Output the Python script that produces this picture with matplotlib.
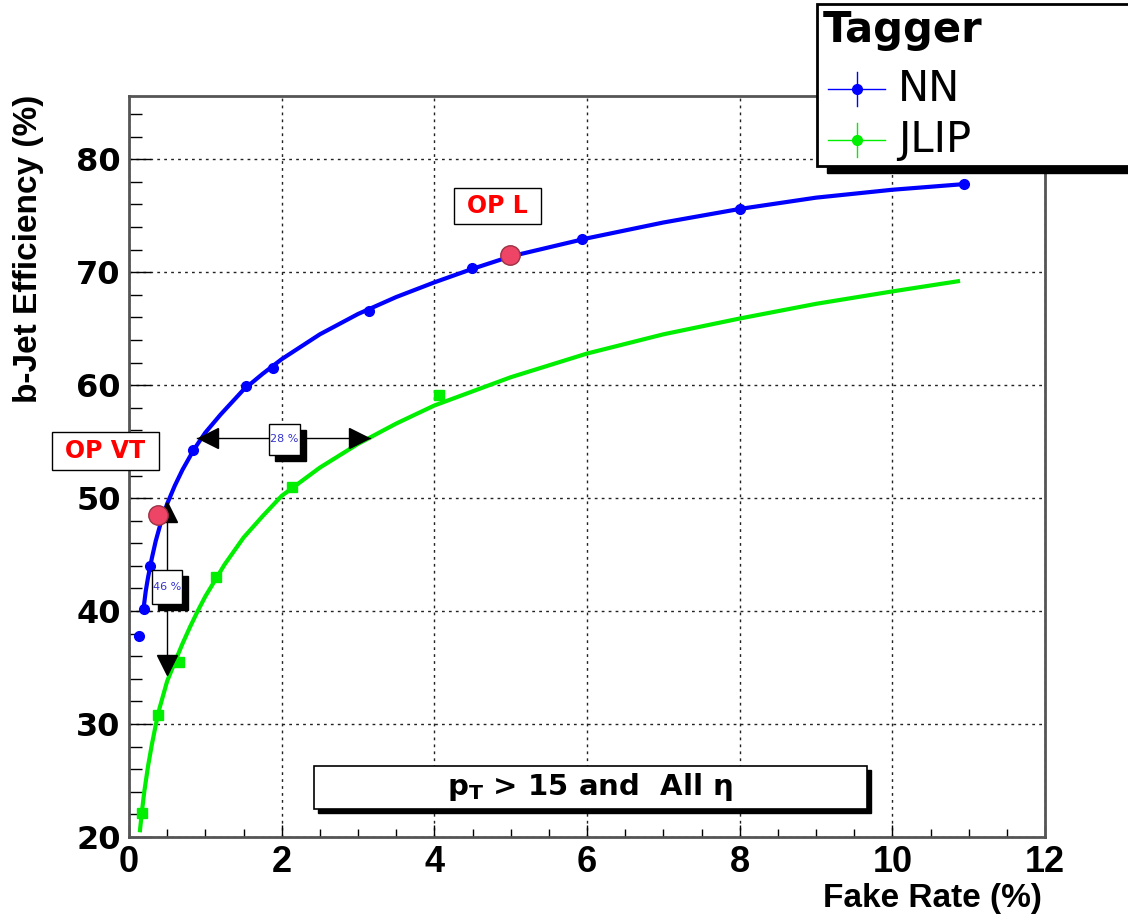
import matplotlib
matplotlib.use("Agg")
import matplotlib.pyplot as plt
from matplotlib.patches import Rectangle
from matplotlib.lines import Line2D
from matplotlib.transforms import offset_copy
from matplotlib.ticker import MultipleLocator

# measured points
nn_x = [0.135, 0.19, 0.275, 0.84, 1.53, 1.89, 3.14, 4.49, 5.93, 8.0, 10.94]
nn_y = [37.8, 40.2, 44.0, 54.3, 59.9, 61.5, 66.6, 70.4, 72.9, 75.6, 77.8]
jlip_x = [0.166, 0.38, 0.65, 1.14, 2.14, 4.06]
jlip_y = [22.1, 30.8, 35.5, 43.0, 51.0, 59.1]

# fitted curves
nn_fit_x = [0.19, 0.22, 0.25, 0.3, 0.35, 0.42, 0.5, 0.6, 0.7, 0.85, 1.0, 1.2, 1.5, 1.75,
            2.0, 2.5, 3.0, 3.5, 4.0, 4.5, 5.0, 6.0, 7.0, 8.0, 9.0, 10.0, 10.94]
nn_fit_y = [40.2, 41.8, 43.0, 44.7, 46.2, 47.9, 49.5, 51.1, 52.5, 54.3, 55.8, 57.4, 59.6, 61.0,
            62.3, 64.5, 66.3, 67.8, 69.1, 70.3, 71.4, 73.0, 74.4, 75.6, 76.6, 77.3, 77.8]
jlip_fit_x = [0.144, 0.17, 0.2, 0.25, 0.3, 0.35, 0.4, 0.5, 0.62, 0.7, 0.8, 0.9, 1.0, 1.25,
              1.5, 1.75, 2.0, 2.5, 3.0, 3.5, 4.0, 5.0, 6.0, 7.0, 8.0, 9.0, 10.0, 10.86]
jlip_fit_y = [20.6, 22.3, 24.0, 26.3, 28.2, 29.9, 31.4, 33.8, 35.8, 37.1, 38.6, 40.0, 41.3, 44.1,
              46.5, 48.4, 50.2, 52.7, 54.8, 56.6, 58.2, 60.7, 62.8, 64.5, 65.9, 67.2, 68.3, 69.2]

# operating points
op_x = [0.38, 4.99]
op_y = [48.5, 71.5]

x_ticks = [0, 2, 4, 6, 8, 10, 12]
y_ticks = [20, 30, 40, 50, 60, 70, 80]

W, H = 1128, 915
BLUE = "#0000ff"
GREEN = "#00ee00"
NARROW = ["Liberation Sans", "DejaVu Sans"]


def fx(px):
    return px / W


def fy(py):
    return 1 - py / H


fig = plt.figure(figsize=(W / 100, H / 100), dpi=100)
ax = fig.add_axes([fx(129), fy(837), 916 / W, 741 / H])

ax.plot(nn_fit_x, nn_fit_y, color=BLUE, lw=3, zorder=3)
ax.plot(nn_x, nn_y, "o", color=BLUE, ms=7, zorder=4)
ax.plot(jlip_fit_x, jlip_fit_y, color=GREEN, lw=3, zorder=3)
ax.plot(jlip_x, jlip_y, "s", color=GREEN, ms=6.5, zorder=4)

# efficiency gain arrows
ax.plot([0.89, 3.16], [55.3, 55.3], color="black", lw=1, zorder=5)
ax.plot([1.04], [55.3], marker="<", ms=15, color="black", zorder=5)
ax.plot([3.01], [55.3], marker=">", ms=15, color="black", zorder=5)
ax.plot([0.5, 0.5], [48.8, 35.2], color="black", lw=1, zorder=5)
ax.plot([0.5], [48.8], marker="^", ms=15, color="black", zorder=5)
ax.plot([0.5], [35.2], marker="v", ms=15, color="black", zorder=5)


def box(x0, y0, x1, y1, shadow=0, lw=1):
    if shadow:
        tr = offset_copy(ax.transData, fig=fig, x=shadow, y=-shadow, units="dots")
        ax.add_patch(Rectangle((x0, y0), x1 - x0, y1 - y0, transform=tr,
                               facecolor="black", edgecolor="black", zorder=6))
    ax.add_patch(Rectangle((x0, y0), x1 - x0, y1 - y0, facecolor="white",
                           edgecolor="black", lw=lw, zorder=6))


box(1.83, 53.8, 2.24, 56.6, shadow=6)
ax.text(2.035, 55.2, "28 %", color="#3333cc", fontsize=8, ha="center", va="center", zorder=7)
box(0.30, 40.6, 0.69, 43.6, shadow=6)
ax.text(0.495, 42.1, "46 %", color="#3333cc", fontsize=8, ha="center", va="center", zorder=7)

box(4.26, 74.25, 5.40, 77.43)
ax.text(4.83, 75.84, "OP L", color="red", fontsize=17, fontweight="bold",
        ha="center", va="center", zorder=7)

box(2.42, 22.5, 9.67, 26.3, shadow=4, lw=1.2)
ax.text(6.04, 24.4, r"$\mathbf{p}_{\mathbf{T}}$ > 15 and  All η", fontsize=21,
        fontweight="bold", ha="center", va="center", zorder=7)

ax.plot(op_x, op_y, "o", ms=14, markerfacecolor="#ee4466",
        markeredgecolor="#993344", markeredgewidth=1, zorder=8)

ax.set_xlim(0, 12)
ax.set_ylim(20, 85.6)
ax.set_xticks(x_ticks)
ax.set_yticks(y_ticks)
ax.xaxis.set_minor_locator(MultipleLocator(0.5))
ax.yaxis.set_minor_locator(MultipleLocator(2))
ax.tick_params(axis="x", which="major", direction="in", length=9, width=1, pad=6, top=False)
ax.tick_params(axis="x", which="minor", direction="in", length=6, width=1, top=False)
ax.tick_params(axis="y", which="major", direction="in", length=16, width=1, pad=6, right=False)
ax.tick_params(axis="y", which="minor", direction="in", length=9, width=1, right=False)
for lab in ax.get_xticklabels():
    lab.set_family(NARROW)
    lab.set_fontweight("bold")
    lab.set_fontsize(26)
for lab in ax.get_yticklabels():
    lab.set_fontweight("bold")
    lab.set_fontsize(23)
ax.grid(True, which="major", color="#222222", lw=1, ls=(0, (2, 3)))
for sp in ax.spines.values():
    sp.set_color("#555555")
    sp.set_linewidth(2)

fig.text(fx(1042), fy(899), "Fake Rate (%)", family=NARROW, fontweight="bold",
         fontsize=24, ha="right", va="center")
fig.text(fx(29), fy(95), "b-Jet Efficiency (%)", family=NARROW, fontweight="bold",
         fontsize=24, rotation=90, ha="center", va="top")

# OP VT label sits over the frame
fig.patches.append(Rectangle((fx(52), fy(470)), 107 / W, 38 / H, transform=fig.transFigure,
                             facecolor="white", edgecolor="black", lw=1, zorder=5))
fig.text(fx(105), fy(451), "OP VT", color="red", fontsize=17, fontweight="bold",
         ha="center", va="center", zorder=6)

# legend
fig.patches.append(Rectangle((fx(827), fy(173)), 320 / W, 8 / H, transform=fig.transFigure,
                             facecolor="black", edgecolor="black", zorder=4))
fig.patches.append(Rectangle((fx(817), fy(166)), 320 / W, 162 / H, transform=fig.transFigure,
                             facecolor="white", edgecolor="black", lw=2, zorder=5))
fig.text(fx(823), fy(30), "Tagger", fontsize=30, fontweight="bold", ha="left", va="center", zorder=6)
for yc, col, name in [(89, BLUE, "NN"), (140, GREEN, "JLIP")]:
    fig.lines.append(Line2D([fx(828), fx(885)], [fy(yc), fy(yc)], color=col, lw=1,
                            transform=fig.transFigure, zorder=6))
    fig.lines.append(Line2D([fx(857), fx(857)], [fy(yc - 17), fy(yc + 17)], color=col, lw=1,
                            transform=fig.transFigure, zorder=6))
    fig.lines.append(Line2D([fx(857)], [fy(yc)], marker="o", ms=7, color=col, lw=0,
                            transform=fig.transFigure, zorder=6))
    fig.text(fx(898), fy(yc), name, fontsize=30, ha="left", va="center", zorder=6)

fig.savefig("out.png", dpi=100, facecolor="white")
